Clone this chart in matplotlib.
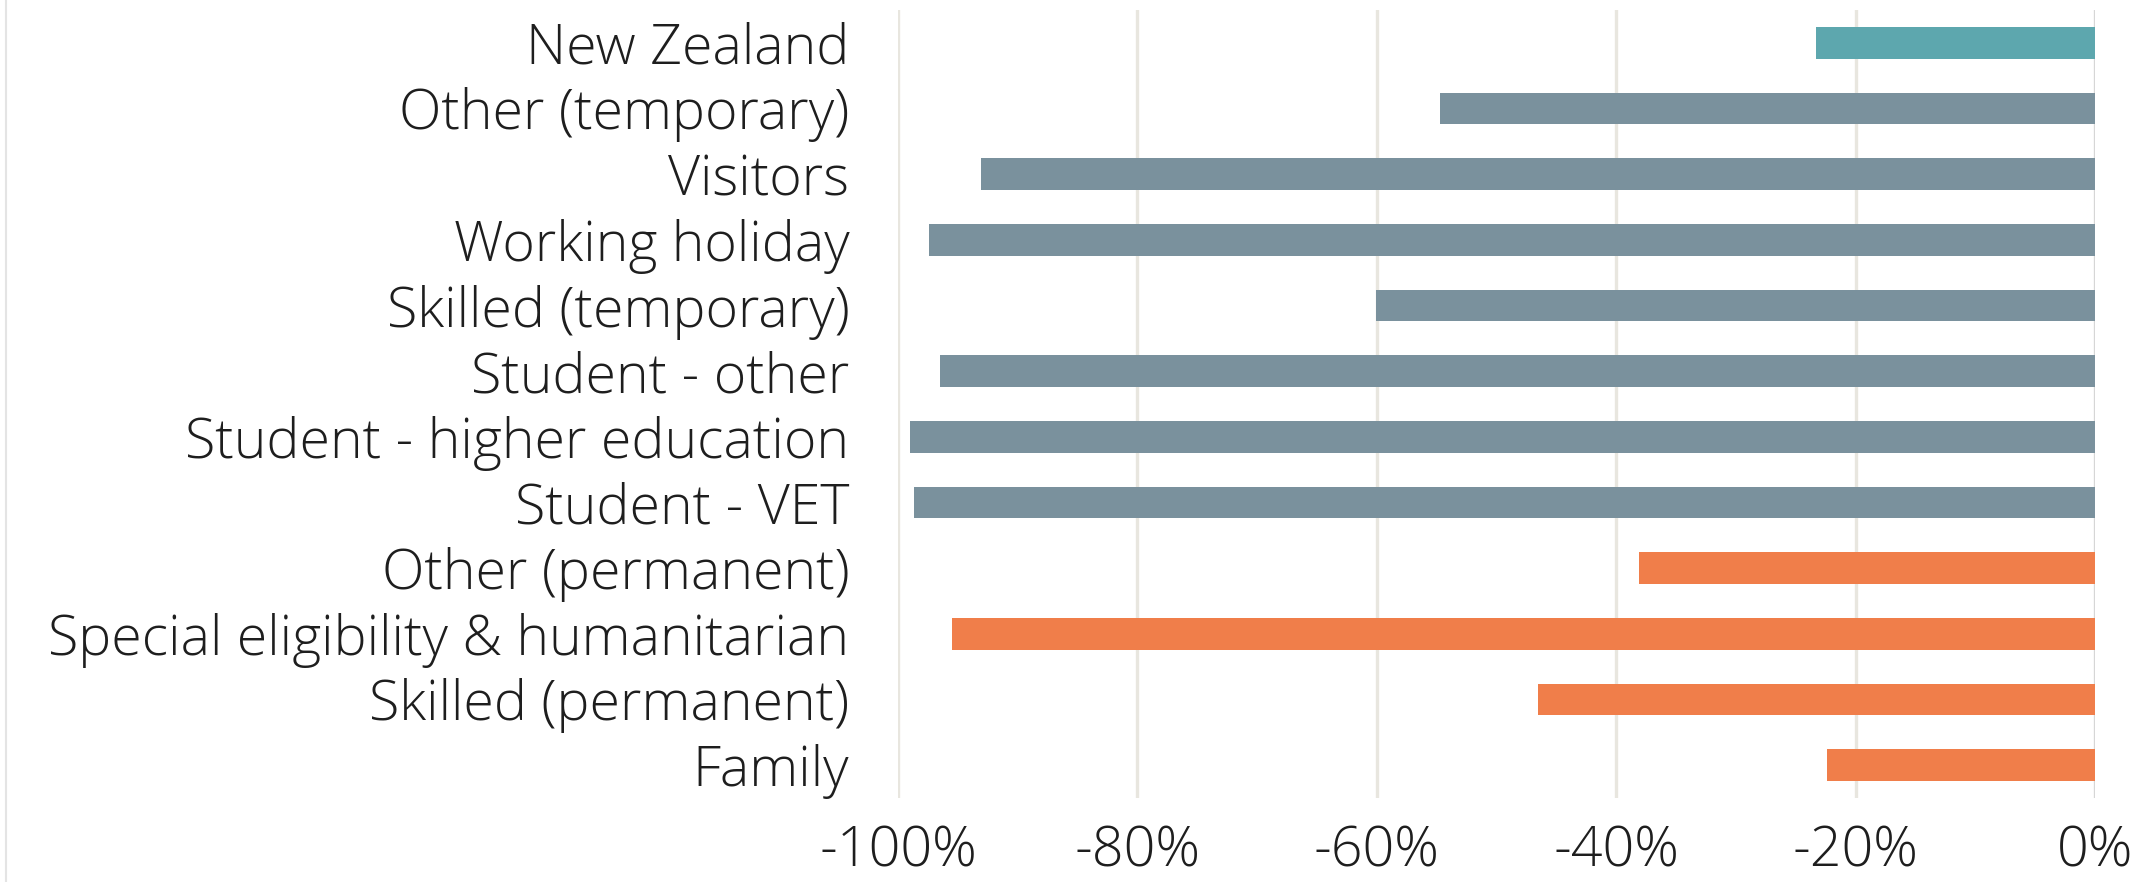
import matplotlib
matplotlib.use("Agg")
import matplotlib.pyplot as plt
from matplotlib.ticker import FuncFormatter, FixedLocator
from matplotlib.lines import Line2D

# Data (top to bottom as shown)
categories = [
    "New Zealand",
    "Other (temporary)",
    "Visitors",
    "Working holiday",
    "Skilled (temporary)",
    "Student - other",
    "Student - higher education",
    "Student - VET",
    "Other (permanent)",
    "Special eligibility & humanitarian",
    "Skilled (permanent)",
    "Family",
]
values = [-23.3, -54.7, -93.1, -97.4, -60.1, -96.5, -99.0, -98.7, -38.1, -95.5, -46.5, -22.4]
groups = ["nz", "temp", "temp", "temp", "temp", "temp", "temp", "temp",
          "perm", "perm", "perm", "perm"]
group_colors = {"nz": "#5DA7AE", "temp": "#7A919D", "perm": "#F07E4A"}
xticks = [-100, -80, -60, -40, -20, 0]

W, H, DPI = 2141, 882, 100
fig = plt.figure(figsize=(W / DPI, H / DPI), dpi=DPI)
ax = fig.add_axes([898 / W, 1 - 798 / H, (2095 - 898) / W, (798 - 10) / H])

font = "Open Sans"
text_color = "#1E1E1E"

ypos = list(range(len(categories)))
colors = [group_colors[g] for g in groups]
ax.barh(ypos, values, height=0.48, color=colors, zorder=3)

ax.set_ylim(len(categories) - 0.5, -0.5)
ax.set_xlim(-100, 0)
ax.xaxis.set_major_locator(FixedLocator(xticks))
ax.xaxis.set_major_formatter(FuncFormatter(lambda v, p: f"{int(round(v))}%"))
ax.set_yticks(ypos)
ax.set_yticklabels(categories)

for v in xticks:
    ax.axvline(v, color="#D6D6D6" if v == 0 else "#E8E6DF", lw=2.4, zorder=1)

for s in ax.spines.values():
    s.set_visible(False)
ax.tick_params(axis="both", length=0)
ax.tick_params(axis="y", pad=35)
ax.tick_params(axis="x", pad=19)
for lab in ax.get_yticklabels() + ax.get_xticklabels():
    lab.set_fontfamily(font)
    lab.set_fontweight("light")
    lab.set_fontsize(40)
    lab.set_color(text_color)

fig.add_artist(Line2D([6 / W, 6 / W], [0, 1], transform=fig.transFigure,
                      color="#E4E4E4", lw=1.5))

fig.savefig("out.png", dpi=DPI, facecolor="white")
